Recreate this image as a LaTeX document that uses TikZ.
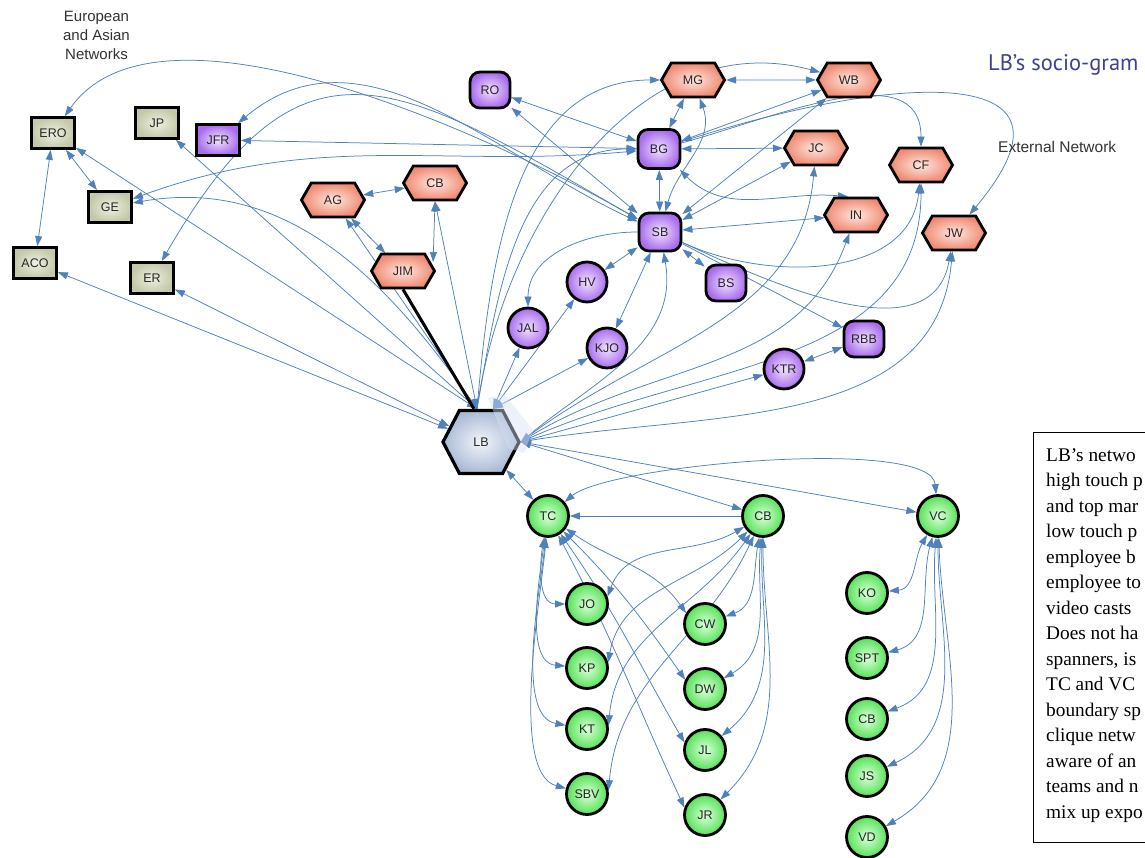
\documentclass[tikz,border=0pt]{standalone}
\usepackage{fontspec}
\setmainfont{Liberation Sans}
\newfontfamily\boxserif{Liberation Serif}
\newfontfamily\titlesans{PT Sans}
\usetikzlibrary{shapes.symbols,arrows.meta,calc,backgrounds}
\definecolor{edgeblue}{RGB}{79,129,189}
\definecolor{grayin}{RGB}{238,240,226}
\definecolor{grayout}{RGB}{196,200,168}
\definecolor{purpin}{RGB}{242,228,255}
\definecolor{purpout}{RGB}{168,108,236}
\definecolor{salin}{RGB}{253,232,224}
\definecolor{salout}{RGB}{240,138,114}
\definecolor{grnin}{RGB}{222,255,222}
\definecolor{grnout}{RGB}{84,226,84}
\definecolor{lbin}{RGB}{242,245,250}
\definecolor{lbout}{RGB}{170,186,214}
\definecolor{selblue}{RGB}{214,224,244}
\definecolor{titleblue}{RGB}{64,64,144}
\begin{document}
\begin{tikzpicture}[x=1pt,y=1pt,
  lbl/.style={font=\fontsize{12.5}{14}\selectfont, text=black!85},
  nbase/.style={draw=black, line width=2.8pt, lbl, inner sep=0pt},
  gbox/.style={nbase, rectangle, minimum width=43pt, minimum height=31pt, inner color=grayin, outer color=grayout},
  prect/.style={nbase, rectangle, minimum width=43pt, minimum height=31pt, inner color=purpin, outer color=purpout},
  pbox/.style={nbase, rectangle, rounded corners=10pt, minimum width=40pt, minimum height=36pt, inner color=purpin, outer color=purpout},
  pcirc/.style={nbase, circle, minimum size=40pt, inner color=purpin, outer color=purpout},
  gcirc/.style={nbase, circle, minimum size=41pt, inner color=grnin, outer color=grnout},
  shex/.style={nbase, signal, signal to=east and west, signal pointer angle=120, minimum width=63pt, minimum height=34pt, inner color=salin, outer color=salout},
  lbhex/.style={nbase, line width=3.2pt, signal, signal to=east and west, signal pointer angle=125, minimum width=76pt, minimum height=63pt, inner color=lbin, outer color=lbout},
  lnk/.style={draw=edgeblue, line width=0.75pt},
  plain/.style={font=\fontsize{15}{19}\selectfont, text=black!80, inner sep=0pt},
  >={Triangle[length=10pt,width=7pt]}
]
\useasboundingbox (0,0) rectangle (1145,858);

% ---------- texts
\node[plain, align=center] (eur) at (96.5,823) {European\\and Asian\\Networks};
\node[plain, anchor=west, font=\fontsize{15.5}{19}\selectfont] (ext) at (998,711) {External Network};
\node[anchor=west, inner sep=0pt, text=titleblue, font=\titlesans\fontsize{22.5}{26}\selectfont] (title) at (988,793) {LB’s socio-gram};

% ---------- left group
\node[gbox] (ERO) at (53,725) {ERO};
\node[gbox] (JP) at (157,735) {JP};
\node[prect] (JFR) at (218,718) {JFR};
\node[gbox] (GE) at (110,651) {GE};
\node[gbox] (ACO) at (35,595) {ACO};
\node[gbox] (ER) at (152,580) {ER};

% ---------- top
\node[pbox] (RO) at (490,768) {RO};
\node[shex] (MG) at (693,778) {MG};
\node[shex] (WB) at (849,778) {WB};
\node[pbox, minimum width=42pt, minimum height=39pt] (BG) at (659,709) {BG};
\node[shex] (JC) at (816,710) {JC};
\node[shex] (CF) at (921,693) {CF};
\node[shex] (IN) at (856,643) {IN};
\node[shex] (JW) at (954,625) {JW};
\node[shex] (AG) at (333,658) {AG};
\node[shex] (CBs) at (435,675) {CB};
\node[shex] (JIM) at (403,587) {JIM};
\node[pbox, minimum width=42pt, minimum height=38pt] (SB) at (660,626) {SB};
\node[pcirc] (HV) at (587,576) {HV};
\node[pbox] (BS) at (726,575) {BS};
\node[pcirc] (JAL) at (528,530) {JAL};
\node[pcirc] (KJO) at (607,510) {KJO};
\node[pbox] (RBB) at (864,519) {RBB};
\node[pcirc] (KTR) at (784,489) {KTR};
\node[lbhex] (LB) at (481,416) {LB};
\fill[selblue, opacity=0.45] (488,460) -- (505,463) -- (533,428) -- (524,405) -- (508,410) -- cycle;
\coordinate (LBt) at ($(LB.north)+(12,0)$);
\coordinate (LBn) at ($(LB.north)+(-4,0)$);

% ---------- bottom
\node[gcirc] (TC) at (548,342) {TC};
\node[gcirc] (CBg) at (763,342) {CB};
\node[gcirc] (VC) at (938,342) {VC};
\node[gcirc] (JO) at (587,254) {JO};
\node[gcirc] (KP) at (587,190) {KP};
\node[gcirc] (KT) at (587,129) {KT};
\node[gcirc] (SBV) at (587,64) {SBV};
\node[gcirc] (CW) at (705,234) {CW};
\node[gcirc] (DW) at (705,169) {DW};
\node[gcirc] (JL) at (705,108) {JL};
\node[gcirc] (JR) at (705,43) {JR};
\node[gcirc] (KO) at (867,265) {KO};
\node[gcirc] (SPT) at (867,200) {SPT};
\node[gcirc] (CBt) at (867,139) {CB};
\node[gcirc] (JS) at (867,82) {JS};
\node[gcirc] (VD) at (867,21) {VD};

% ---------- text box
\draw[line width=1pt] (1033,15) rectangle (1160,425);
\node[anchor=north west, inner sep=0pt, align=left, font=\boxserif\fontsize{19.3}{25.5}\selectfont] (note) at (1046,410)
 {LB’s netwo\\high touch p\\and top mar\\low touch p\\employee b\\employee to\\video casts\\Does not ha\\spanners, is\\TC and VC\\boundary sp\\clique netw\\aware of an\\teams and n\\mix up expo};

\begin{pgfonlayer}{background}
\fill[white] (0,0) rectangle (1145,858);
\begin{scope}[lnk]
% left group
\draw[<->] (LB) -- (ACO);
\draw[<->] (LB) -- (ER);
\draw[<->] (LBn) -- (ERO);
\draw[<->] (LBn) -- (JP);
\draw[<->] (LBn) to[out=125, in=10] (GE);
\draw[<->] (BG) to[out=185, in=20] (GE);
\draw[<->] (BG) -- (JFR);
\draw[<->] (SB) to[out=155, in=40] (JFR);
\draw[<->] (SB) to[out=150, in=55, looseness=0.72] (ERO);
\draw[<->] (SB) to[out=150, in=60, looseness=1.5] (ER);
\draw[<->] (ERO) -- (GE);
\draw[<->] (ERO) -- (ACO);
% centre
\draw[<->] (AG) -- (CBs);
\draw[<->] (AG) -- (JIM);
\draw[<->] (CBs.south) -- ($(JIM.east)+(-3,9)$);
\draw[<->] (CBs.south) -- (LBn);
\draw[<->] (AG) -- (LBn);
\draw[line width=3pt, black] (JIM.south) -- ($(LB.north)+(-7,0)$);
\draw[<->] (RO) -- (BG);
\draw[<->] (RO) -- (SB);
\draw[->] (LBn) to[out=82, in=165] (WB);
\draw[->] (LBn) to[out=85, in=180] (MG);
\draw[->] (LBn) to[out=80, in=180] (BG);
% top right
\draw[<->] (MG) -- (BG);
\draw[<->] (MG) -- (WB);
\draw[<->] (WB) -- (BG);
\draw[<->] (SB) -- (WB);
\draw[<->] (SB) to[out=75, in=-70] (MG);
\draw[<->] (BG) -- (JC);
\draw[<->] (BG) -- (SB);
\draw[->] (BG) to[out=15, in=90] (CF);
\draw[->] (BG) to[out=18, in=50, looseness=1.8] (JW);
\draw[<->] (BG) to[out=-45, in=175] ($(IN.north)+(-8,0)$);
\draw[<->] (SB) -- (IN);
\draw[<->] (SB) -- (JC);
\draw[->] (LB.east) to[out=38, in=-95] (JC);
\draw[->] (LB.east) to[out=33, in=-110] (IN);
\draw[->] (LB.east) to[out=25, in=-90] (CF);
\draw[->] (LB.east) to[out=10, in=-95] (JW);
\draw[->] (SB) to[out=-25, in=-95] (CF);
\draw[->] (SB) to[out=-25, in=-100] (JW);
\draw[<->] (SB) -- (BS);
\draw[<->] (SB) -- (HV);
\draw[->] (SB) to[out=180, in=90] (JAL);
\draw[<->] (SB) -- (KJO);
\draw[<->] (LB.east) to[out=40, in=-80] (SB);
\draw[->] (SB) -- (RBB);
\draw[<->] (LBt) -- (JAL);
\draw[<->] (LBt) -- (HV);
\draw[<->] (LBt) -- (KJO);
\draw[<->] (LB.east) -- (KTR);
\draw[<->] (KTR) -- (RBB);
% bottom
\draw[<->] (LB) -- (TC);
\draw[<->] (LB.east) -- (CBg);
\draw[<->] (LB.east) -- (VC);
\draw[<->] (VC) to[out=95, in=40, looseness=0.4] (TC);
\draw[->] (CBg) -- (TC);
\draw[<->] (TC) to[out=-100, in=180] (JO);
\draw[<->] (TC) to[out=-98, in=175, looseness=0.8] (KP);
\draw[<->] (TC) to[out=-96, in=170, looseness=0.7] (KT);
\draw[<->] (TC) to[out=-95, in=165, looseness=0.6] (SBV);
\draw[<->] (TC) to[out=-35, in=125] (CW.150);
\draw[<->] (TC) to[out=-45, in=125] (DW.155);
\draw[<->] (TC) to[out=-55, in=120] (JL.160);
\draw[<->] (TC) to[out=-62, in=115] (JR.160);
\draw[<->] (CBg) to[out=-150, in=70] (JO.20);
\draw[<->] (CBg) to[out=-135, in=80] (KP.15);
\draw[<->] (CBg) to[out=-125, in=85] (KT.10);
\draw[<->] (CBg) to[out=-115, in=85] (SBV.10);
\draw[<->] (CBg) to[out=-100, in=20] (CW);
\draw[<->] (CBg) to[out=-95, in=30] (DW);
\draw[<->] (CBg) to[out=-92, in=40] (JL);
\draw[<->] (CBg) to[out=-90, in=45] (JR);
\draw[<->] (VC) to[out=-120, in=5] (KO);
\draw[<->] (VC) to[out=-105, in=15] (SPT);
\draw[<->] (VC) to[out=-95, in=20] (CBt);
\draw[<->] (VC) to[out=-90, in=25] (JS);
\draw[<->] (VC) to[out=-88, in=30] (VD);
\end{scope}
\end{pgfonlayer}
\end{tikzpicture}
\end{document}
